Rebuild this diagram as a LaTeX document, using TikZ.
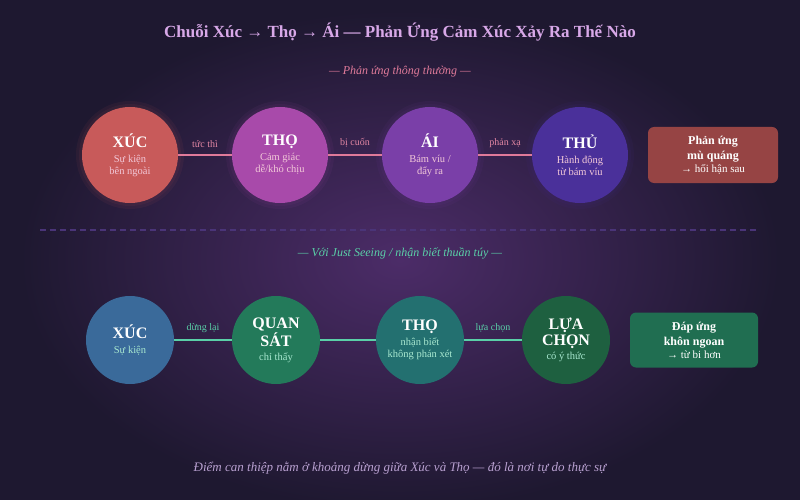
\documentclass[tikz,border=0pt]{standalone}
\usepackage{fontspec}
\setmainfont{Liberation Serif}
\newcommand\hdf{\fontsize{16}{17}\selectfont\bfseries}
\newcommand\sbf{\fontsize{10.5}{13}\selectfont}
\begin{document}
\begin{tikzpicture}[x=1pt,y=-1pt,
  circ/.style={circle,minimum size=#1,inner sep=0pt,align=center,text=white},
  lab/.style={font=\fontsize{10}{11}\selectfont},
  pinkline/.style={draw=lpink,line width=2.5pt},
  greenline/.style={draw=lgreen,line width=2.5pt},
  rbox/.style={rounded corners=6pt,minimum width=130pt,minimum height=56pt,align=center,text=white,font=\fontsize{12}{15}\selectfont\bfseries}]
\definecolor{bg}{HTML}{1E1830}
\definecolor{glow}{HTML}{4C2C68}
\definecolor{lpink}{HTML}{E07A9A}
\definecolor{lgreen}{HTML}{5AD0A8}
\definecolor{cA}{HTML}{C85A5A}\definecolor{cB}{HTML}{A84AAA}\definecolor{cC}{HTML}{7A3FA8}\definecolor{cD}{HTML}{4A309A}
\definecolor{cE}{HTML}{3A6A9A}\definecolor{cF}{HTML}{237A5A}\definecolor{cG}{HTML}{237070}\definecolor{cH}{HTML}{1E6040}
\definecolor{tsub}{HTML}{F2C8D8}\definecolor{gsub}{HTML}{A8E8D0}
\definecolor{ttl}{HTML}{D8A8E8}\definecolor{ft}{HTML}{B8A0D0}\definecolor{dsh}{HTML}{4A3478}
\useasboundingbox (0,0) rectangle (800,500);
\fill[bg] (0,0) rectangle (800,500);
\shade[inner color=glow,outer color=bg] (400,260) ellipse (380 and 250);
\node[font=\fontsize{17}{19}\selectfont\bfseries,text=ttl] (title) at (400,32) {Chuỗi Xúc → Thọ → Ái — Phản Ứng Cảm Xúc Xảy Ra Thế Nào};
\node[font=\fontsize{12}{14}\selectfont\itshape,text=lpink] (s1) at (400,72) {— Phản ứng thông thường —};
\node[font=\fontsize{12}{14}\selectfont\itshape,text=lgreen] (s2) at (400,253) {— Với Just Seeing / nhận biết thuần túy —};
\node[font=\fontsize{13}{15}\selectfont\itshape,text=ft] (foot) at (400,468) {Điểm can thiệp nằm ở khoảng dừng giữa Xúc và Thọ — đó là nơi tự do thực sự};
\coordinate (dl) at (40,230); \coordinate (dr) at (757,230);
\draw[draw=dsh,line width=1.2pt,dash pattern=on 6pt off 4pt] (dl) -- (dr);
% top row
\foreach \x/\c in {130/cA,280/cB,430/cC,580/cD}{
  \fill[\c,opacity=0.07] (\x,155) circle (54);
  \fill[\c,opacity=0.07] (\x,155) circle (51);
}
\node[circ=96pt,fill=cA] (a) at (130,155) {{\hdf XÚC}\\[3pt]{\sbf\color{tsub}Sự kiện}\\{\sbf\color{tsub}bên ngoài}};
\node[circ=96pt,fill=cB] (b) at (280,155) {{\hdf THỌ}\\[3pt]{\sbf\color{tsub}Cảm giác}\\{\sbf\color{tsub}dễ/khó chịu}};
\node[circ=96pt,fill=cC] (c) at (430,155) {{\hdf ÁI}\\[3pt]{\sbf\color{tsub}Bám víu /}\\{\sbf\color{tsub}đẩy ra}};
\node[circ=96pt,fill=cD] (d) at (580,155) {{\hdf THỦ}\\[3pt]{\sbf\color{tsub}Hành động}\\{\sbf\color{tsub}từ bám víu}};
\draw[pinkline] (a) -- node[above=3pt,lab,text=lpink!90!white]{tức thì} (b);
\draw[pinkline] (b) -- node[above=3pt,lab,text=lpink!90!white]{bị cuốn} (c);
\draw[pinkline] (c) -- node[above=3pt,lab,text=lpink!90!white]{phản xạ} (d);
\node[rbox,fill=cA!75!black] (r1) at (713,155) {Phản ứng\\mù quáng\\[-2pt]{\mdseries\fontsize{11}{13}\selectfont → hối hận sau}};
% bottom row
\node[circ=88pt,fill=cE] (e) at (130,340) {{\hdf XÚC}\\[3pt]{\sbf\color{gsub}Sự kiện}};
\node[circ=88pt,fill=cF] (f) at (276,340) {{\hdf QUAN}\\[1pt]{\hdf SÁT}\\[2pt]{\sbf\color{gsub}chỉ thấy}};
\node[circ=88pt,fill=cG] (g) at (420,340) {{\hdf THỌ}\\[3pt]{\sbf\color{gsub}nhận biết}\\{\sbf\color{gsub}không phán xét}};
\node[circ=88pt,fill=cH] (h) at (566,340) {{\hdf LỰA}\\[1pt]{\hdf CHỌN}\\[2pt]{\sbf\color{gsub}có ý thức}};
\draw[greenline] (e) -- node[above=3pt,lab,text=lgreen]{dừng lại} (f);
\draw[greenline] (f) -- (g);
\draw[greenline] (g) -- node[above=3pt,lab,text=lgreen]{lựa chọn} (h);
\node[rbox,minimum width=128pt,minimum height=55pt,fill=cF!90!black] (r2) at (694,340) {Đáp ứng\\khôn ngoan\\[-2pt]{\mdseries\fontsize{11}{13}\selectfont → từ bi hơn}};
\end{tikzpicture}
\end{document}
